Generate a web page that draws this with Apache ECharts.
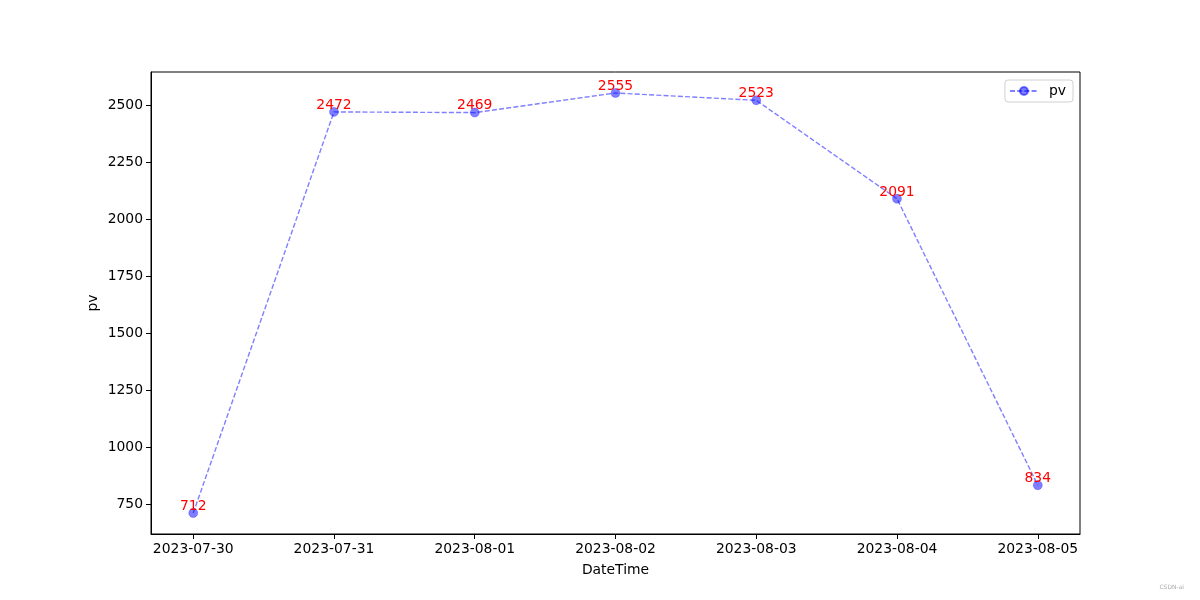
<!DOCTYPE html>
<html lang="en">
<head>
    <meta charset="UTF-8">
    <title>pv</title>
    <script src="https://cdn.jsdelivr.net/npm/echarts@6/dist/echarts.min.js"></script>
    <style>
        html, body { margin: 0; padding: 0; background: #fff; }
        #main { width: 1200px; height: 600px; }
    </style>
</head>
<body>
    <div id="main"></div>
    <script type="text/javascript">
        // 数据
        const dates = ['2023-07-30', '2023-07-31', '2023-08-01', '2023-08-02', '2023-08-03', '2023-08-04', '2023-08-05'];
        const pv = [712, 2472, 2469, 2555, 2523, 2091, 834];
        const yTicks = [750, 1000, 1250, 1500, 1750, 2000, 2250, 2500];

        const font = 'DejaVu Sans';
        const fs = 13.9;
        const blue = 'rgba(0,0,255,0.5)';

        // matplotlib 默认留白 5%
        const pvMin = Math.min(...pv), pvMax = Math.max(...pv);
        const pad = (pvMax - pvMin) * 0.05;
        const xPad = (dates.length - 1) * 0.05;
        const xIdx = dates.map((d, i) => i);

        const chart = echarts.init(document.getElementById('main'));
        const option = {
            animation: false,
            backgroundColor: '#fff',
            textStyle: { fontFamily: font },
            grid: {
                left: 151, right: 120, top: 72, bottom: 66,
                show: true, borderColor: '#000', borderWidth: 1, backgroundColor: 'transparent'
            },
            legend: {
                right: 127, top: 80,
                padding: [4, 7, 4, 4],
                borderColor: '#d0d0d0', borderWidth: 1, borderRadius: 3,
                itemWidth: 28, itemHeight: 10, itemGap: 10,
                textStyle: { fontSize: fs, color: '#000', fontFamily: font, padding: [0, 0, 0, 6] },
                data: ['pv']
            },
            xAxis: {
                type: 'value',
                min: -xPad, max: dates.length - 1 + xPad,
                name: 'DateTime', nameLocation: 'middle', nameGap: 29,
                nameTextStyle: { fontSize: fs, color: '#000', fontFamily: font },
                axisLine: { show: true, onZero: false, lineStyle: { color: '#000' } },
                axisTick: { show: true, length: 5, lineStyle: { color: '#000' }, customValues: xIdx },
                axisLabel: {
                    color: '#000', fontSize: fs, fontFamily: font, margin: 8,
                    customValues: xIdx,
                    formatter: v => dates[Math.round(v)]
                },
                splitLine: { show: false }
            },
            yAxis: {
                type: 'value',
                min: pvMin - pad, max: pvMax + pad,
                name: 'pv', nameLocation: 'middle', nameGap: 51, nameMoveOverlap: false,
                nameTextStyle: { fontSize: fs, color: '#000', fontFamily: font },
                axisLine: { show: true, onZero: false, lineStyle: { color: '#000' } },
                axisTick: { show: true, length: 5, lineStyle: { color: '#000' }, customValues: yTicks },
                axisLabel: {
                    color: '#000', fontSize: fs, fontFamily: font, margin: 8,
                    customValues: yTicks,
                    formatter: v => String(v)
                },
                splitLine: { show: false }
            },
            series: [{
                name: 'pv',
                type: 'line',
                data: xIdx.map(i => [i, pv[i]]),
                symbol: 'circle',
                symbolSize: 9,
                lineStyle: { color: blue, width: 1.4, type: [5, 2.2] },
                itemStyle: { color: blue, borderColor: blue, borderWidth: 0.5 },
                label: {
                    show: true, position: 'top', distance: -5,
                    color: 'red', fontSize: fs, fontFamily: font,
                    formatter: p => p.data[1]
                }
            }],
            graphic: [{
                type: 'text', right: 16, top: 584,
                style: { text: 'CSDN-ai', fontSize: 6, fill: '#aaa', fontFamily: font }
            }]
        };
        chart.setOption(option);
    </script>
</body>
</html>
